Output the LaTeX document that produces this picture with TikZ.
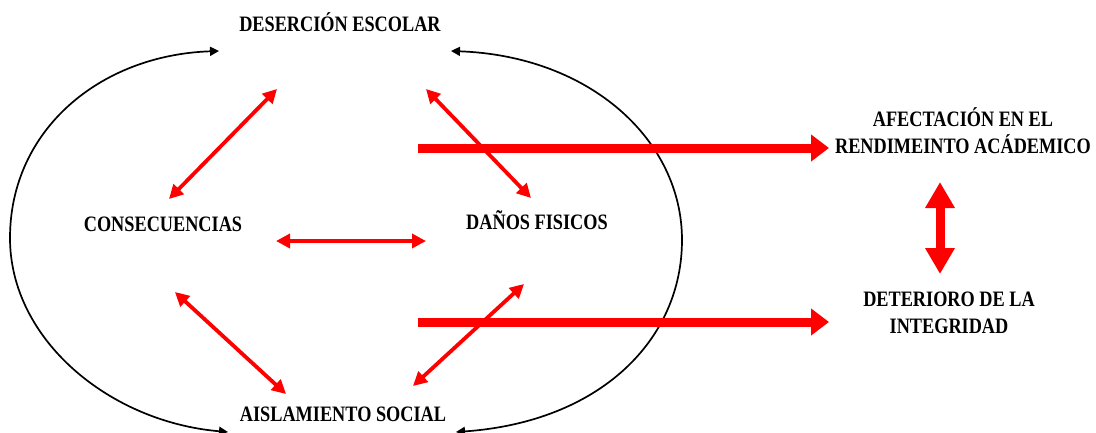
\documentclass[tikz,border=0pt]{standalone}
\usepackage{fontspec}
\newfontfamily\lbl{Liberation Serif}[FakeStretch=0.83]
\usetikzlibrary{arrows.meta}
\begin{document}
\begin{tikzpicture}[x=1pt,y=-1pt,
  lab/.style={font=\lbl\bfseries\fontsize{22}{27}\selectfont, align=center, inner sep=0pt},
  blk/.style={line width=1.7pt, {Triangle[length=9pt,width=9pt]}-{Triangle[length=9pt,width=9pt]}},
  redd/.style={draw=red, line width=3.8pt, {Triangle[length=14pt,width=14pt]}-{Triangle[length=14pt,width=14pt]}},
  thick/.style={draw=red, line width=9pt, -{Triangle[length=18pt,width=26pt]}},
  vthick/.style={draw=red, line width=9pt, {Triangle[length=26pt,width=28pt]}-{Triangle[length=26pt,width=28pt]}}]
\useasboundingbox (0,0) rectangle (1096,432);
% nodes
\node[lab] (des) at (340,22) {DESERCIÓN ESCOLAR};
\node[lab] (con) at (163,224) {CONSECUENCIAS};
\node[lab] (dan) at (537,220) {DAÑOS FISICOS};
\node[lab] (ais) at (343,414) {AISLAMIENTO SOCIAL};
\node[lab] (afe) at (963,131) {AFECTACIÓN EN EL\\RENDIMEINTO ACÁDEMICO};
\node[lab] (det) at (949,313) {DETERIORO DE LA\\INTEGRIDAD};
% connector end points
\coordinate (d1) at (277,89);
\coordinate (c1) at (169,199);
\coordinate (d2) at (426,89);
\coordinate (n2) at (531,198);
\coordinate (c3) at (276,241);
\coordinate (n3) at (426,241);
\coordinate (c4) at (175,292);
\coordinate (a4) at (286,394);
\coordinate (n5) at (524,284);
\coordinate (a5) at (413,386);
\coordinate (s6) at (418,148);
\coordinate (e6) at (829,148);
\coordinate (s7) at (418,322);
\coordinate (e7) at (829,322);
\coordinate (v1) at (940,182);
\coordinate (v2) at (940,274);
\coordinate (dl) at (219,51);
\coordinate (al) at (228,432);
\coordinate (dr) at (451,51);
\coordinate (ar) at (456,432);
% black arcs
\draw[blk] (al) .. controls (110,422) and (10,340) .. (10,238) .. controls (10,130) and (100,55) .. (dl);
\draw[blk] (ar) .. controls (600,422) and (682,340) .. (682,240) .. controls (682,140) and (590,56) .. (dr);
% red arrows
\draw[redd] (d1) -- (c1);
\draw[redd] (d2) -- (n2);
\draw[redd] (c3) -- (n3);
\draw[redd] (c4) -- (a4);
\draw[redd] (n5) -- (a5);
\draw[thick] (s6) -- (e6);
\draw[thick] (s7) -- (e7);
\draw[vthick] (v1) -- (v2);
\end{tikzpicture}
\end{document}
